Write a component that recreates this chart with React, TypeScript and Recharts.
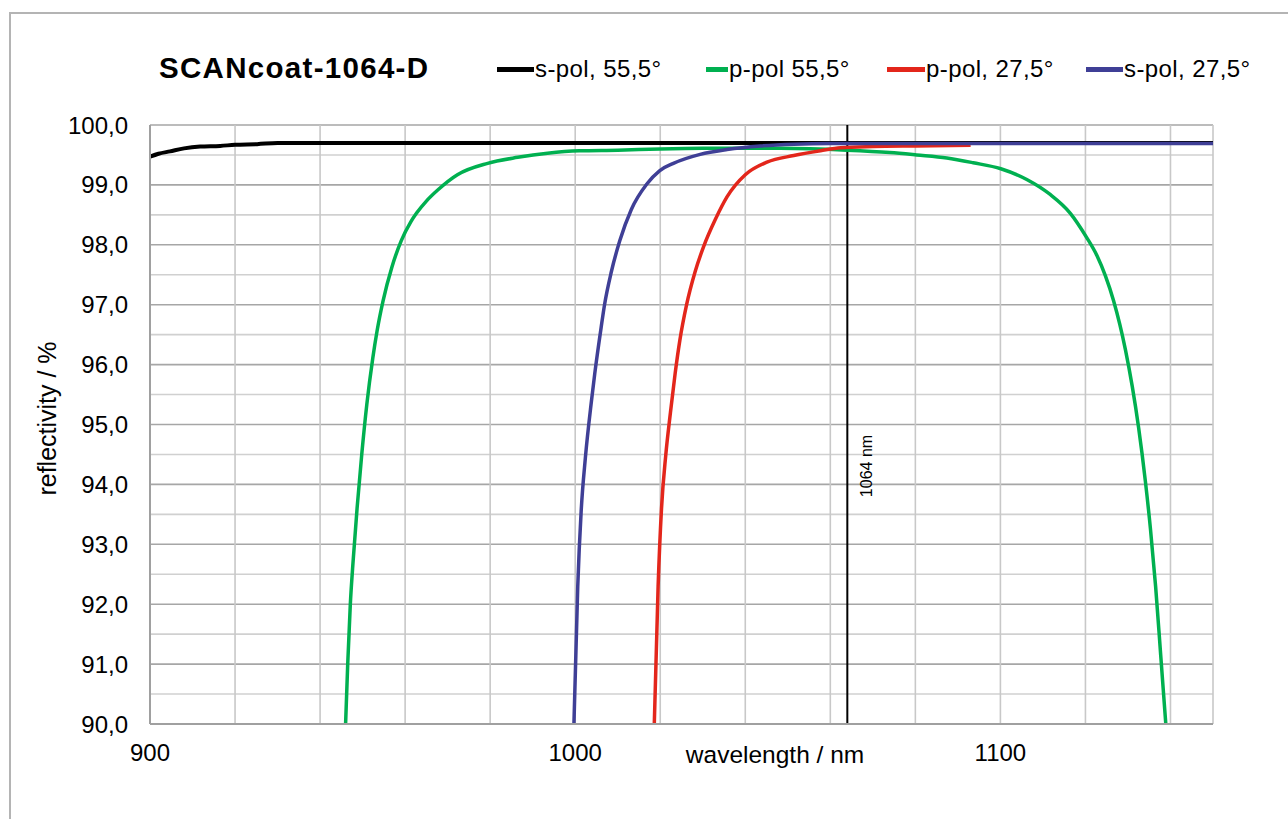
import React from "react";
import {
  CartesianGrid,
  Legend,
  Line,
  LineChart,
  ReferenceLine,
  XAxis,
  YAxis,
} from "recharts";

// wavelength (nm) / reflectivity (%)
const seriesNames = ["s-pol, 55,5°", "p-pol 55,5°", "p-pol, 27,5°", "s-pol, 27,5°"];

const sPol55Wl = [900, 902, 904.7, 908, 911.8, 916.5, 920, 925.2, 930, 960, 1000, 1060, 1100, 1150];
const sPol55R = [99.47, 99.52, 99.56, 99.61, 99.64, 99.65, 99.67, 99.68, 99.7, 99.7, 99.7, 99.7, 99.7, 99.7];

const pPol55Wl = [
  946.0, 946.5, 947.1, 947.8, 948.7, 949.8, 951.0, 952.4, 953.4, 954.8, 956.9, 959.1, 961.3,
  962.7, 965.0, 967.6, 972.3, 979.4, 986.5, 993.5, 1001, 1010, 1020, 1030, 1040, 1048.2, 1063.9,
  1074.0, 1080.3, 1087.4, 1093.6, 1100.1, 1106.2, 1111.7, 1116.4, 1120.3, 1122.7, 1124.7,
  1126.6, 1129.4, 1131.0, 1132.5, 1134.1, 1135.3, 1136.5, 1137.7, 1138.9,
];
const pPol55R = [
  90, 91.0, 91.98, 92.75, 93.6, 94.5, 95.34, 96.11, 96.56, 97.06, 97.63, 98.07, 98.38, 98.53,
  98.73, 98.91, 99.17, 99.36, 99.46, 99.53, 99.57, 99.58, 99.6, 99.61, 99.61, 99.61, 99.58, 99.54,
  99.5, 99.45, 99.37, 99.27, 99.09, 98.84, 98.53, 98.12, 97.82, 97.48, 97.07, 96.25, 95.64,
  94.95, 94.05, 93.25, 92.3, 91.15, 90.0,
];

const pPol27Wl = [
  1018.6, 1019.5, 1020.3, 1021.3, 1022.4, 1023.5, 1024.6, 1026.2, 1028.2, 1030.2, 1033.0,
  1035.7, 1040.0, 1045.1, 1051.4, 1057.7, 1062.4, 1070, 1080, 1093,
];
const pPol27R = [
  90, 92.3, 93.6, 94.49, 95.2, 95.85, 96.4, 97.0, 97.55, 97.97, 98.43, 98.8, 99.17, 99.38, 99.49,
  99.57, 99.62, 99.64, 99.65, 99.66,
];

const sPol27Wl = [
  999.7, 1000.6, 1001.4, 1002.4, 1003.8, 1004.6, 1006.1, 1006.9, 1008.5, 1010.5, 1013.2,
  1016.8, 1019.9, 1023.1, 1029.4, 1035.7, 1043.5, 1051.4, 1060, 1080, 1100, 1150,
];
const sPol27R = [
  90, 92.3, 93.55, 94.45, 95.38, 95.85, 96.62, 97.0, 97.55, 98.07, 98.59, 99.01, 99.24, 99.36,
  99.51, 99.59, 99.65, 99.68, 99.69, 99.69, 99.69, 99.69,
];

const xTicks = [900, 920, 940, 960, 980, 1000, 1020, 1040, 1060, 1080, 1100, 1120, 1140];
const yTicks = [
  90, 90.5, 91, 91.5, 92, 92.5, 93, 93.5, 94, 94.5, 95, 95.5, 96, 96.5, 97, 97.5, 98, 98.5, 99,
  99.5, 100,
];
const markerWl = 1064;

const toPoints = (wl: number[], r: number[]) => wl.map((w, i) => ({ wl: w, r: r[i] }));

const FONT = '"Liberation Sans", Arial, sans-serif';

// legend placement (left edge of each entry, sample line length)
const legendX = [497, 706, 887, 1086];
const legendLine = [37, 22, 38, 37];

const renderLegend = (props: any) => {
  const items = props.payload || [];
  const ordered = seriesNames
    .map((n) => items.find((it: any) => it.value === n))
    .filter(Boolean);
  return (
    <div style={{ position: "relative", width: 1288, height: 100 }}>
      {ordered.map((item: any, i: number) => (
        <div
          key={item.value}
          style={{
            position: "absolute",
            left: legendX[i],
            top: 55,
            display: "flex",
            alignItems: "center",
            fontFamily: FONT,
            fontSize: 24,
            letterSpacing: 0.4,
            color: "#000",
            whiteSpace: "nowrap",
          }}
        >
          <span
            style={{
              display: "inline-block",
              width: legendLine[i],
              height: 5,
              background: item.color,
              marginRight: 1,
            }}
          />
          {item.value}
        </div>
      ))}
    </div>
  );
};

const renderHLine = (p: any) => {
  const whole = Number.isInteger(yTicks[p.index]);
  return (
    <line
      key={p.key}
      x1={p.x1}
      x2={p.x2}
      y1={p.y1}
      y2={p.y2}
      stroke={whole ? "#a6a6a6" : "#d0d0d0"}
      strokeWidth={1.6}
    />
  );
};

const renderVLine = (p: any) => (
  <line key={p.key} x1={p.x1} x2={p.x2} y1={p.y1} y2={p.y2} stroke="#c8c8c8" strokeWidth={1.6} />
);

const renderMarkerLabel = (props: any) => {
  const vb = props.viewBox || {};
  const x = vb.x + 25;
  const y = 466;
  return (
    <text
      x={x}
      y={y}
      transform={`rotate(-90 ${x} ${y})`}
      textAnchor="middle"
      fontFamily={FONT}
      fontSize={16}
      fill="#000"
    >
      1064 nm
    </text>
  );
};

const renderXLabel = (props: any) => {
  const vb = props.viewBox || {};
  const x = vb.x + ((1047 - 900) / 250) * vb.width;
  return (
    <text x={x} y={vb.y + 39} textAnchor="middle" fontFamily={FONT} fontSize={24.5} fill="#000">
      wavelength / nm
    </text>
  );
};

const renderYLabel = (props: any) => {
  const vb = props.viewBox || {};
  const x = 56;
  const y = vb.y + vb.height * 0.49;
  return (
    <text
      x={x}
      y={y}
      transform={`rotate(-90 ${x} ${y})`}
      textAnchor="middle"
      fontFamily={FONT}
      fontSize={25}
      fill="#000"
    >
      reflectivity / %
    </text>
  );
};

export default function App() {
  return (
    <div
      style={{
        position: "absolute",
        left: 0,
        top: 0,
        width: 1288,
        height: 819,
        background: "#fff",
        overflow: "hidden",
      }}
    >
      <div
        style={{
          position: "absolute",
          left: 9,
          top: 12,
          width: 1400,
          height: 900,
          borderTop: "2px solid #b4b4b4",
          borderLeft: "2px solid #b4b4b4",
        }}
      />
      <div
        style={{
          position: "absolute",
          left: 159,
          top: 51,
          fontFamily: FONT,
          fontWeight: "bold",
          fontSize: 29.5,
          letterSpacing: 1.3,
          color: "#000",
        }}
      >
        SCANcoat-1064-D
      </div>
      <div style={{ position: "absolute", left: 0, top: 0 }}>
        <LineChart width={1288} height={819} margin={{ top: 125, right: 75, bottom: 35, left: 50 }}>
          <CartesianGrid horizontal={renderHLine} vertical={renderVLine} />
          <XAxis
            type="number"
            dataKey="wl"
            domain={[900, 1150]}
            ticks={xTicks}
            interval={0}
            allowDataOverflow
            height={60}
            tickLine={false}
            tickSize={0}
            tickMargin={20}
            tickFormatter={(v: number) => (v % 100 === 0 ? String(v) : "")}
            tick={{ fill: "#000", fontSize: 24, fontFamily: FONT }}
            axisLine={{ stroke: "#a0a0a0", strokeWidth: 2 }}
            label={renderXLabel}
          />
          <YAxis
            type="number"
            dataKey="r"
            domain={[90, 100]}
            ticks={yTicks}
            interval={0}
            allowDataOverflow
            width={100}
            tickLine={false}
            tickSize={0}
            tickMargin={22}
            tickFormatter={(v: number) => (Number.isInteger(v) ? v.toFixed(1).replace(".", ",") : "")}
            tick={{ fill: "#000", fontSize: 24, fontFamily: FONT }}
            axisLine={{ stroke: "#a0a0a0", strokeWidth: 2 }}
            label={renderYLabel}
          />
          <Legend
            layout="horizontal"
            verticalAlign="middle"
            align="center"
            wrapperStyle={{ left: 0, top: 0, width: 1288, height: 100 }}
            content={renderLegend}
          />
          <ReferenceLine x={markerWl} stroke="#000" strokeWidth={2} label={renderMarkerLabel} />
          <Line
            data={toPoints(sPol55Wl, sPol55R)}
            dataKey="r"
            name={seriesNames[0]}
            type="monotone"
            stroke="#000000"
            strokeWidth={4}
            dot={false}
            isAnimationActive={false}
          />
          <Line
            data={toPoints(pPol55Wl, pPol55R)}
            dataKey="r"
            name={seriesNames[1]}
            type="monotone"
            stroke="#00b050"
            strokeWidth={3.5}
            dot={false}
            isAnimationActive={false}
          />
          <Line
            data={toPoints(pPol27Wl, pPol27R)}
            dataKey="r"
            name={seriesNames[2]}
            type="monotone"
            stroke="#e3261b"
            strokeWidth={3.5}
            dot={false}
            isAnimationActive={false}
          />
          <Line
            data={toPoints(sPol27Wl, sPol27R)}
            dataKey="r"
            name={seriesNames[3]}
            type="monotone"
            stroke="#3f3f96"
            strokeWidth={3.5}
            dot={false}
            isAnimationActive={false}
          />
        </LineChart>
      </div>
    </div>
  );
}
